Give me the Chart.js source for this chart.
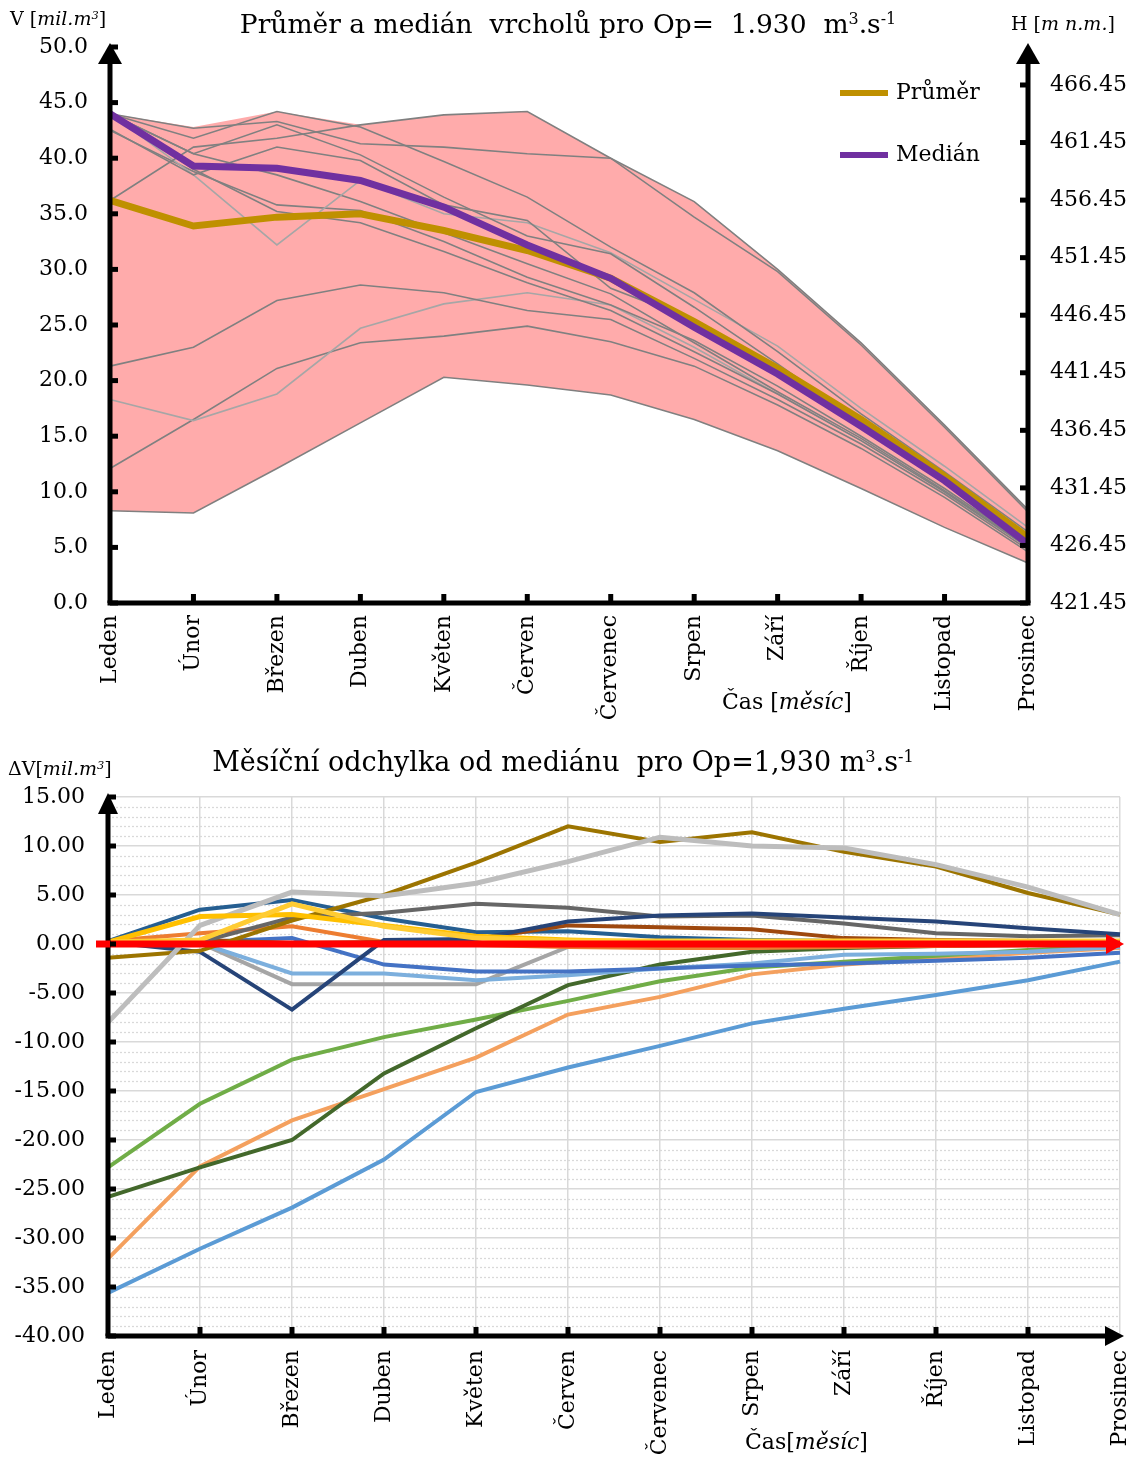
<!DOCTYPE html>
<html>
<head>
<meta charset="utf-8">
<script src="https://cdn.jsdelivr.net/npm/chart.js@4.4.0/dist/chart.umd.min.js"></script>
<style>
body { margin: 0; background: #fff; font-family: 'DejaVu Serif', serif; color: #000; }
#wrap { position: relative; width: 1139px; height: 1458px; }
canvas { position: absolute; left: 0; }
#topChart { top: 0; }
#bottomChart { top: 740px; }
.t { position: absolute; white-space: pre; line-height: 1; }
sup { font-size: 0.6em; vertical-align: 0.55em; line-height: 0; }
</style>
</head>
<body>
<div id="wrap">
<canvas id="topChart" width="1139" height="720"></canvas>
<canvas id="bottomChart" width="1139" height="718"></canvas>

<div class="t" style="left:0;width:1136px;text-align:center;top:11px;font-size:26.5px">Průměr a medián  vrcholů pro Op=  1.930  m<sup>3</sup>.s<sup>-1</sup></div>
<div class="t" style="left:10px;top:9px;font-size:19px">V [<i>mil.m<sup>3</sup></i>]</div>
<div class="t" style="left:1011px;top:14px;font-size:19px">H [<i>m n.m.</i>]</div>
<div class="t" style="left:722px;top:691px;font-size:22px">Čas [<i>měsíc</i>]</div>

<div class="t" style="left:0;width:1126px;text-align:center;top:748px;font-size:27px">Měsíční odchylka od mediánu  pro Op=1,930 m<sup>3</sup>.s<sup>-1</sup></div>
<div class="t" style="left:8px;top:759px;font-size:19px">ΔV[<i>mil.m<sup>3</sup></i>]</div>
<div class="t" style="left:745px;top:1431px;font-size:22px">Čas[<i>měsíc</i>]</div>
</div>

<script>
// categories and tick labels
const months = ['Leden', 'Únor', 'Březen', 'Duben', 'Květen', 'Červen', 'Červenec', 'Srpen', 'Září', 'Říjen', 'Listopad', 'Prosinec'];
const volumeTicks = [0, 5, 10, 15, 20, 25, 30, 35, 40, 45, 50];
const levelTicks = [421.45, 426.45, 431.45, 436.45, 441.45, 446.45, 451.45, 456.45, 461.45, 466.45];
const deviationTicks = [-40, -35, -30, -25, -20, -15, -10, -5, 0, 5, 10, 15];

// top chart - mean, median, envelope
const meanPeak = [36.2, 33.9, 34.7, 35.0, 33.5, 31.7, 29.2, 25.3, 21.1, 16.5, 11.4, 5.9];
const medianPeak = [44.0, 39.3, 39.1, 38.0, 35.6, 32.2, 29.2, 24.8, 20.6, 15.9, 11.0, 5.3];
const bandUpper = [44.0, 42.8, 44.2, 43.0, 43.9, 44.2, 40.0, 36.1, 30.0, 23.4, 16.0, 8.4];
const bandLower = [8.3, 8.1, 12.1, 16.2, 20.3, 19.6, 18.7, 16.5, 13.7, 10.3, 6.8, 3.6];

// top chart - single runs (grey)
const run01 = [36.2, 41.0, 41.8, 43.0, 43.9, 44.2, 40.0, 36.1, 30.0, 23.4, 16.0, 8.4];
const run02 = [44.0, 42.7, 43.3, 41.3, 41.0, 40.4, 40.0, 34.7, 29.8, 23.2, 15.8, 8.2];
const run03 = [44.0, 41.8, 44.2, 42.8, 39.7, 36.5, 32.0, 27.9, 22.6, 17.0, 11.8, 6.4];
const run04 = [44.0, 40.4, 43.0, 40.3, 36.5, 33.0, 31.4, 26.6, 21.5, 16.2, 11.0, 5.9];
const run05 = [42.6, 38.5, 41.0, 39.8, 35.8, 34.4, 28.3, 25.4, 20.9, 15.8, 10.8, 5.6];
const run06 = [44.0, 38.5, 32.2, 38.0, 35.0, 34.2, 31.5, 27.3, 23.1, 17.5, 12.3, 6.8];
const run07 = [42.5, 38.8, 35.8, 35.3, 32.5, 29.3, 26.8, 23.6, 19.5, 15.0, 10.3, 5.2];
const run08 = [44.0, 39.0, 35.2, 34.2, 31.6, 28.8, 26.3, 22.6, 18.8, 14.6, 10.0, 5.0];
const run09 = [44.0, 40.4, 38.5, 36.1, 33.3, 30.5, 27.8, 23.4, 19.0, 14.8, 10.1, 5.1];
const run10 = [21.3, 23.0, 27.2, 28.6, 27.9, 26.3, 25.5, 22.0, 18.3, 14.3, 9.8, 4.8];
const run11 = [18.3, 16.4, 18.8, 24.7, 26.9, 27.9, 26.8, 23.0, 18.8, 14.6, 10.0, 5.0];
const run12 = [12.1, 16.5, 21.1, 23.4, 24.0, 24.9, 23.5, 21.3, 17.8, 13.9, 9.5, 4.6];
const run13 = [8.3, 8.1, 12.1, 16.2, 20.3, 19.6, 18.7, 16.5, 13.7, 10.3, 6.8, 3.6];

// bottom chart - deviation from median
const devGold = [-1.4, -0.7, 2.4, 5.0, 8.3, 12.0, 10.4, 11.4, 9.4, 7.9, 5.2, 3.0];
const devSilver = [-8.0, 1.9, 5.3, 4.9, 6.2, 8.4, 10.9, 10.0, 9.8, 8.1, 5.8, 3.0];
const devCharcoal = [0.0, 0.2, 2.7, 3.2, 4.1, 3.7, 2.8, 2.9, 2.1, 1.1, 0.8, 0.9];
const devNavy = [0.2, -0.8, -6.7, 0.4, 0.5, 2.3, 2.9, 3.1, 2.7, 2.3, 1.6, 1.0];
const devSteel = [0.3, 3.5, 4.5, 2.6, 1.2, 1.3, 0.7, 0.4, 0.3, 0.2, 0.2, 0.2];
const devYellow = [0.2, 2.8, 3.0, 1.9, 0.8, 0.4, 0.2, 0.2, 0.2, 0.1, 0.1, 0.1];
const devLemon = [0.2, 0.4, 4.1, 1.8, 0.6, 0.3, 0.3, 0.3, 0.3, 0.3, 0.3, 0.3];
const devOrange = [0.3, 1.1, 1.8, 0.2, -0.1, -0.3, -0.4, -0.4, -0.3, -0.2, -0.1, 0.0];
const devBrown = [0.0, 0.4, 0.1, 0.2, 0.5, 1.9, 1.7, 1.5, 0.6, 0.4, 0.3, 0.2];
const devBlue = [0.2, 0.2, 0.6, -2.1, -2.8, -2.8, -2.5, -2.2, -2.0, -1.7, -1.4, -0.9];
const devPaleBlue = [0.2, 0.1, -3.0, -3.0, -3.7, -3.2, -2.5, -2.0, -1.1, -1.0, -0.8, -0.3];
const devGrey = [0.2, 0.1, -4.1, -4.1, -4.1, -0.3, -0.3, -0.2, -0.1, -0.1, 0.0, 0.0];
const devForest = [-25.8, -22.8, -20.0, -13.2, -8.6, -4.2, -2.1, -0.8, -0.4, -0.2, -0.1, 0.0];
const devGreen = [-22.8, -16.3, -11.8, -9.5, -7.7, -5.8, -3.8, -2.4, -1.8, -1.2, -0.6, -0.2];
const devSalmon = [-32.1, -22.7, -18.0, -14.8, -11.6, -7.2, -5.4, -3.1, -2.1, -1.5, -0.9, -0.4];
const devSky = [-35.6, -31.1, -26.9, -22.0, -15.1, -12.6, -10.4, -8.1, -6.6, -5.2, -3.7, -1.8];
const medianLine = [0, 0, 0, 0, 0, 0, 0, 0, 0, 0, 0, 0];

Chart.defaults.font.family = "'DejaVu Serif', serif";
Chart.defaults.font.size = 22;
Chart.defaults.color = '#000';

const runs = [run01, run02, run03, run04, run05, run06, run07, run08, run09, run10, run11, run12, run13];
const runShade = ['#808080', '#808080', '#808080', '#808080', '#808080', '#a6a6a6', '#808080',
                  '#808080', '#808080', '#808080', '#a6a6a6', '#808080', '#808080'];

function line(ctx, x1, y1, x2, y2) {
    ctx.beginPath();
    ctx.moveTo(x1, y1);
    ctx.lineTo(x2, y2);
    ctx.stroke();
}

function tri(ctx, pts) {
    ctx.beginPath();
    ctx.moveTo(pts[0], pts[1]);
    ctx.lineTo(pts[2], pts[3]);
    ctx.lineTo(pts[4], pts[5]);
    ctx.closePath();
    ctx.fill();
}

// axes with arrows + inner ticks + legend for the top chart
const topDecor = {
    id: 'topDecor',
    afterDatasetsDraw(chart) {
        const ctx = chart.ctx;
        const a = chart.chartArea;
        const xs = chart.scales.x, ys = chart.scales.y, ys1 = chart.scales.y1;
        ctx.save();
        ctx.strokeStyle = '#000';
        ctx.fillStyle = '#000';
        ctx.lineWidth = 5;
        line(ctx, a.left - 2.5, a.bottom, a.right + 2.5, a.bottom);
        line(ctx, a.left, a.bottom, a.left, a.top + 12);
        line(ctx, a.right, a.bottom, a.right, a.top + 12);
        tri(ctx, [a.left, a.top - 4, a.left - 12, a.top + 17, a.left + 12, a.top + 17]);
        tri(ctx, [a.right, a.top - 4, a.right - 12, a.top + 17, a.right + 12, a.top + 17]);
        ys.ticks.forEach(t => {
            const py = ys.getPixelForValue(t.value);
            line(ctx, a.left, py, a.left + 8, py);
        });
        ys1.ticks.forEach(t => {
            const py = ys1.getPixelForValue(t.value);
            line(ctx, a.right - 8, py, a.right, py);
        });
        months.forEach((m, i) => {
            if (i === 0 || i === months.length - 1) return;
            const px = xs.getPixelForValue(i);
            line(ctx, px, a.bottom, px, a.bottom - 9);
        });

        // legend
        const items = chart.data.datasets.filter(d => d.label === 'Průměr' || d.label === 'Medián');
        const order = ['Průměr', 'Medián'];
        ctx.font = "22px 'DejaVu Serif', serif";
        ctx.textBaseline = 'middle';
        order.forEach((name, k) => {
            const ds = items.find(d => d.label === name);
            const ly = a.top + 46 + k * 62;
            const lx = a.right - 188;
            ctx.strokeStyle = ds.borderColor;
            ctx.lineWidth = 6;
            line(ctx, lx, ly, lx + 48, ly);
            ctx.fillStyle = '#000';
            ctx.fillText(name, lx + 56, ly);
        });
        ctx.restore();
    }
};

const topDatasets = [
    { label: 'Medián', data: medianPeak, borderColor: '#7030a0', borderWidth: 7, order: 0 },
    { label: 'Průměr', data: meanPeak, borderColor: '#bf9000', borderWidth: 7, order: 1 }
];
runs.forEach((r, i) => {
    topDatasets.push({ label: 'run' + (i + 1), data: r, borderColor: runShade[i], borderWidth: 1.6, order: 2 });
});
topDatasets.push({ label: 'min', data: bandLower, borderWidth: 0, borderColor: 'rgba(0,0,0,0)', fill: false, order: 5 });
topDatasets.push({ label: 'max', data: bandUpper, borderWidth: 0, borderColor: 'rgba(0,0,0,0)', backgroundColor: '#ffabab', fill: '-1', order: 4 });

new Chart(document.getElementById('topChart'), {
    type: 'line',
    data: { labels: months, datasets: topDatasets },
    options: {
        responsive: false,
        animation: false,
        devicePixelRatio: 1,
        layout: { padding: { top: 47, left: 0, right: 0, bottom: 0 } },
        plugins: { legend: { display: false }, tooltip: { enabled: false } },
        elements: { point: { radius: 0 }, line: { tension: 0 } },
        scales: {
            x: {
                offset: false,
                grid: { display: false, drawTicks: false },
                border: { display: false },
                ticks: { autoSkip: false, minRotation: 90, maxRotation: 90, padding: 12 },
                afterFit(s) { s.height = 117; }
            },
            y: {
                position: 'left',
                min: 0,
                max: 50,
                afterBuildTicks(s) { s.ticks = volumeTicks.map(v => ({ value: v })); },
                ticks: { padding: 22, callback: v => v.toFixed(1) },
                grid: { display: false, drawTicks: false },
                border: { display: false },
                afterFit(s) { s.width = 110; }
            },
            y1: {
                position: 'right',
                min: 421.45,
                max: 469.75,
                afterBuildTicks(s) { s.ticks = levelTicks.map(v => ({ value: v })); },
                ticks: { padding: 22, callback: v => v.toFixed(2) },
                grid: { display: false, drawTicks: false },
                border: { display: false },
                afterFit(s) { s.width = 111; }
            }
        }
    },
    plugins: [topDecor]
});

// bottom chart
const devSeries = [
    { data: medianLine, color: '#ff0000', width: 7, order: 0 },
    { data: devLemon, color: '#ffcc33', width: 5, order: 1 },
    { data: devYellow, color: '#ffc000', width: 5, order: 2 },
    { data: devSilver, color: '#bdbdbd', width: 5, order: 3 },
    { data: devGold, color: '#9c7400', width: 4, order: 4 },
    { data: devNavy, color: '#264478', width: 4, order: 5 },
    { data: devCharcoal, color: '#666666', width: 4, order: 6 },
    { data: devBrown, color: '#9e480e', width: 4, order: 7 },
    { data: devSteel, color: '#255e91', width: 4, order: 8 },
    { data: devOrange, color: '#ed7d31', width: 4, order: 9 },
    { data: devBlue, color: '#4472c4', width: 4, order: 10 },
    { data: devPaleBlue, color: '#7cafdd', width: 4, order: 11 },
    { data: devGrey, color: '#a5a5a5', width: 4, order: 12 },
    { data: devForest, color: '#43682b', width: 4, order: 13 },
    { data: devGreen, color: '#70ad47', width: 4, order: 14 },
    { data: devSalmon, color: '#f4a05e', width: 4, order: 15 },
    { data: devSky, color: '#5b9bd5', width: 4, order: 16 }
];

const bottomDecor = {
    id: 'bottomDecor',
    beforeDatasetsDraw(chart) {
        // dotted minor grid every 1.0
        const ctx = chart.ctx;
        const a = chart.chartArea;
        const ys = chart.scales.y;
        ctx.save();
        ctx.strokeStyle = '#d9d9d9';
        ctx.lineWidth = 1.3;
        ctx.setLineDash([2, 2]);
        for (let v = ys.min; v <= ys.max; v++) {
            if (v % 5 === 0) continue;
            const py = Math.round(ys.getPixelForValue(v)) + 0.5;
            line(ctx, a.left, py, a.right, py);
        }
        ctx.restore();
    },
    afterDatasetsDraw(chart) {
        const ctx = chart.ctx;
        const a = chart.chartArea;
        const xs = chart.scales.x, ys = chart.scales.y;
        ctx.save();
        ctx.strokeStyle = '#000';
        ctx.fillStyle = '#000';
        ctx.lineWidth = 5;
        line(ctx, a.left - 2.5, a.bottom, a.right - 10, a.bottom);
        line(ctx, a.left, a.bottom, a.left, a.top + 10);
        tri(ctx, [a.left, a.top - 4, a.left - 10, a.top + 17, a.left + 10, a.top + 17]);
        tri(ctx, [a.right + 4, a.bottom, a.right - 15, a.bottom - 10, a.right - 15, a.bottom + 10]);
        ys.ticks.forEach(t => {
            const py = ys.getPixelForValue(t.value);
            line(ctx, a.left, py, a.left + 8, py);
        });
        months.forEach((m, i) => {
            if (i === 0 || i === months.length - 1) return;
            const px = xs.getPixelForValue(i);
            line(ctx, px, a.bottom, px, a.bottom - 9);
        });
        // red median arrow
        const meta = chart.getDatasetMeta(0).data;
        const first = meta[0], last = meta[meta.length - 1];
        ctx.strokeStyle = '#ff0000';
        ctx.fillStyle = '#ff0000';
        ctx.lineWidth = 7;
        line(ctx, first.x - 12, first.y, first.x + 2, first.y);
        tri(ctx, [last.x + 4, last.y, last.x - 14, last.y - 10, last.x - 14, last.y + 10]);
        ctx.restore();
    }
};

new Chart(document.getElementById('bottomChart'), {
    type: 'line',
    data: {
        labels: months,
        datasets: devSeries.map((s, i) => ({
            label: 'serie' + i,
            data: s.data,
            borderColor: s.color,
            borderWidth: s.width,
            order: s.order,
            fill: false
        }))
    },
    options: {
        responsive: false,
        animation: false,
        devicePixelRatio: 1,
        layout: { padding: { top: 57, left: 0, right: 19, bottom: 0 } },
        plugins: { legend: { display: false }, tooltip: { enabled: false } },
        elements: { point: { radius: 0 }, line: { tension: 0 } },
        scales: {
            x: {
                offset: false,
                grid: { color: '#d9d9d9', lineWidth: 1.5, drawTicks: false },
                border: { display: false },
                ticks: { autoSkip: false, minRotation: 90, maxRotation: 90, padding: 14 },
                afterFit(s) { s.height = 122; s.paddingLeft = 0; s.paddingRight = 0; }
            },
            y: {
                min: -40,
                max: 15,
                afterBuildTicks(s) { s.ticks = deviationTicks.map(v => ({ value: v })); },
                ticks: { padding: 23, callback: v => v.toFixed(2) },
                grid: { color: '#d9d9d9', lineWidth: 1.5, drawTicks: false },
                border: { display: false },
                afterFit(s) { s.width = 108; }
            }
        }
    },
    plugins: [bottomDecor]
});
</script>
</body>
</html>
